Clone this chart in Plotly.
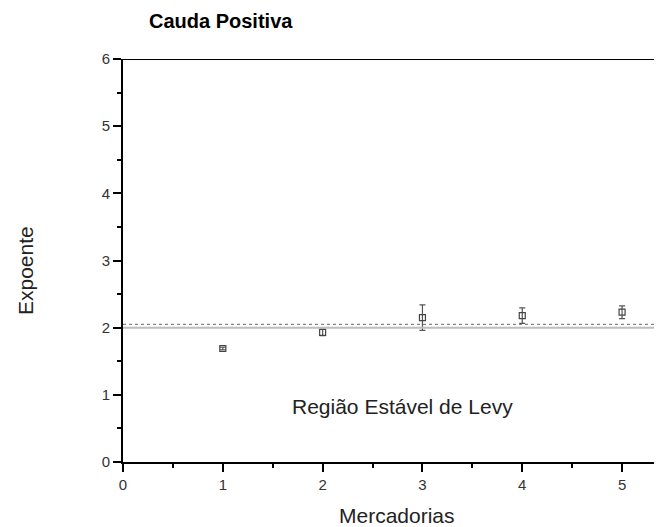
import plotly.graph_objects as go

mercadorias = [1, 2, 3, 4, 5]
expoente = [1.69, 1.93, 2.15, 2.18, 2.23]
erro = [0.02, 0.05, 0.19, 0.115, 0.095]
levy_limit = 2.0
media_ref = 2.05
x_ticks = [0, 1, 2, 3, 4, 5]
y_ticks = [0, 1, 2, 3, 4, 5, 6]

W, H = 662, 527
OFF = 8  # page body margin offset
ML, MR, MT, MB = 123 - OFF, 8, 59 - OFF, 65 + OFF
FONT = "Arial, Liberation Sans, sans-serif"

fig = go.Figure()
fig.add_trace(go.Scatter(
    x=mercadorias, y=expoente, mode="markers",
    marker=dict(symbol="square-open", size=6, color="#444", line=dict(width=1.2, color="#444")),
    error_y=dict(type="data", array=erro, visible=True, color="#555", thickness=1.2, width=3),
    showlegend=False, hoverinfo="skip",
))

fig.add_hline(y=levy_limit, line=dict(color="#bdbdbd", width=2))
fig.add_hline(y=media_ref, line=dict(color="#666", width=1, dash="dot"))

fig.add_annotation(x=2.8, y=0.82, text="Região Estável de Levy", showarrow=False,
                   font=dict(family=FONT, size=21, color="#222"))

axis_font = dict(family=FONT, size=15, color="#333")
fig.update_xaxes(range=[0, 5.4], tickvals=x_ticks, ticks="outside", ticklen=8, tickwidth=2,
                 tickcolor="black", showline=True, linecolor="black", linewidth=2,
                 showgrid=False, zeroline=False, tickfont=axis_font, automargin=False,
                 minor=dict(tickvals=[0.5, 1.5, 2.5, 3.5, 4.5], ticks="outside", ticklen=4, tickwidth=2, tickcolor="black"))
fig.update_yaxes(range=[0, 6], tickvals=y_ticks, ticks="outside", ticklen=8, tickwidth=2,
                 tickcolor="black", showline=True, linecolor="black", linewidth=2,
                 showgrid=False, zeroline=False, tickfont=axis_font, automargin=False,
                 minor=dict(tickvals=[0.5, 1.5, 2.5, 3.5, 4.5, 5.5], ticks="outside", ticklen=4, tickwidth=2, tickcolor="black"))

fig.add_shape(type="line", xref="paper", yref="y", x0=0, x1=1, y0=6, y1=6,
              line=dict(color="black", width=2))

# axis titles
pw = W - ML - MR
ph = H - MT - MB
fig.add_annotation(xref="paper", yref="paper", x=(397 - OFF - ML) / pw, y=(H - MB - (515 - OFF)) / ph,
                   text="Mercadorias", showarrow=False, xanchor="center", yanchor="middle",
                   font=dict(family=FONT, size=21, color="#222"))
fig.add_annotation(xref="paper", yref="paper", x=(25 - OFF - ML) / pw, y=(H - MB - (271 - OFF)) / ph,
                   text="Expoente", textangle=-90, showarrow=False, xanchor="center", yanchor="middle",
                   font=dict(family=FONT, size=21, color="#222"))

fig.update_layout(
    width=W, height=H,
    margin=dict(l=ML, r=MR, t=MT, b=MB, autoexpand=False),
    paper_bgcolor="white", plot_bgcolor="white",
    title=dict(text="<b>Cauda Positiva</b>", x=(149 - OFF) / W, xanchor="left", y=1 - (21 - OFF) / H, yanchor="middle",
               font=dict(family=FONT, size=20, color="black")),
)

fig.write_html("out.html")
